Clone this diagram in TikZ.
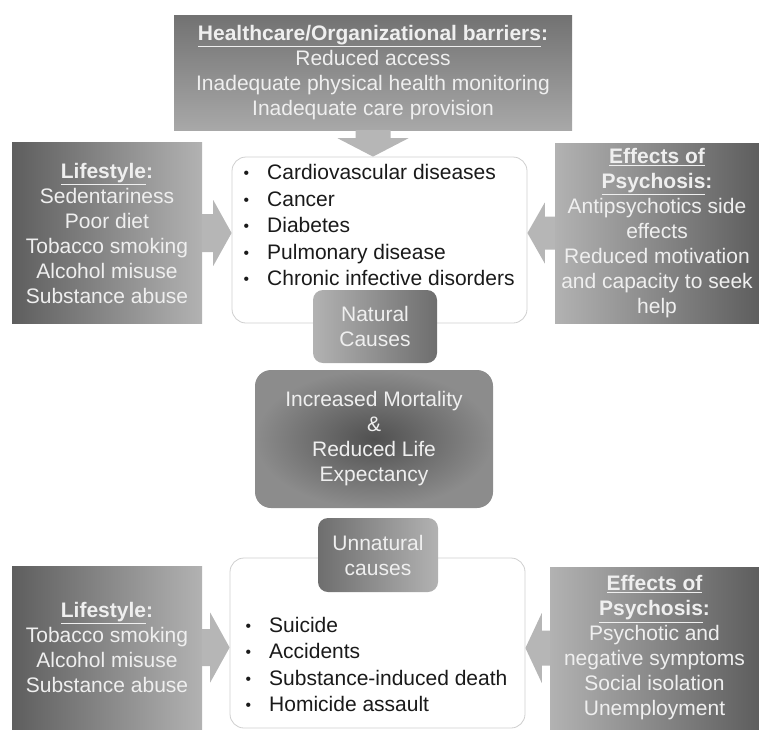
\documentclass[tikz,border=0pt]{standalone}
\usepackage{fontspec}
\setmainfont{Liberation Sans}
\usetikzlibrary{calc}
\definecolor{boxtext}{HTML}{EFEFEF}
\definecolor{listtext}{HTML}{1A1A1A}
\definecolor{edgegrey}{HTML}{CFCFCF}
\definecolor{arrowgrey}{HTML}{B6B6B6}
\definecolor{darkgrey}{HTML}{5E5E5E}
\definecolor{lightgrey}{HTML}{B2B2B2}
\definecolor{topgrey}{HTML}{727272}
\definecolor{bottomgrey}{HTML}{A8A8A8}
\definecolor{midgrey}{HTML}{505050}
\definecolor{rimgrey}{HTML}{8C8C8C}
\newcommand{\itm}{\makebox[23.5pt][l]{\raisebox{1pt}{\scalebox{0.75}{\textbullet}}}}
\begin{document}
\begin{tikzpicture}[x=1pt, y=-1pt,
  greybox/.style={inner sep=0pt, align=center, text=boxtext, font=\fontsize{21}{25}\selectfont},
  listbox/.style={draw=edgegrey, line width=0.8pt, fill=white, rounded corners=14pt, inner sep=0pt},
  itemlist/.style={inner sep=0pt, align=left, text=listtext, font=\fontsize{21}{26.5}\selectfont, anchor=west},
  causebox/.style={greybox, rounded corners=10pt},
  fatarrow/.style={fill=arrowgrey}]
  \useasboundingbox (0,0) rectangle (759,729);
  % ── cajas blancas con las causas ──
  \node[listbox, minimum width=295pt, minimum height=166pt] (natBox) at (379.5,240) {};
  \node[itemlist] (natList) at (243.5,225) {\itm Cardiovascular diseases\\\itm Cancer\\\itm Diabetes\\\itm Pulmonary disease\\\itm Chronic infective disorders};
  \node[listbox, minimum width=295pt, minimum height=170pt] (unnatBox) at (377.5,643) {};
  \node[itemlist] (unnatList) at (245.5,664.5) {\itm Suicide\\\itm Accidents\\\itm Substance-induced death\\\itm Homicide assault};
  % ── barreras (arriba) ──
  \node[greybox, top color=topgrey, bottom color=bottomgrey, minimum width=398pt, minimum height=115pt] (barriers) at (373,72.5)
    {\textbf{\underline{Healthcare/Organizational barriers}:}\\Reduced access\\Inadequate physical health monitoring\\Inadequate care provision};
  % ── estilo de vida / efectos de la psicosis ──
  \node[greybox, left color=darkgrey, right color=lightgrey, minimum width=190pt, minimum height=181pt] (lifeTop) at (107,233)
    {\textbf{\underline{Lifestyle}:}\\Sedentariness\\Poor diet\\Tobacco smoking\\Alcohol misuse\\Substance abuse};
  \node[greybox, left color=lightgrey, right color=darkgrey, minimum width=204pt, minimum height=180pt] (psyTop) at (657,233)
    {\textbf{\underline{Effects of}}\\\textbf{\underline{Psychosis}:}\\Antipsychotics side\\effects\\Reduced motivation\\and capacity to seek\\help};
  \node[greybox, left color=darkgrey, right color=lightgrey, minimum width=190pt, minimum height=163pt] (lifeBot) at (107,647.5)
    {\textbf{\underline{Lifestyle}:}\\Tobacco smoking\\Alcohol misuse\\Substance abuse};
  \node[greybox, left color=lightgrey, right color=darkgrey, minimum width=209pt, minimum height=162pt] (psyBot) at (654.5,648)
    {\textbf{\underline{Effects of}}\\\textbf{\underline{Psychosis}:}\\Psychotic and\\negative symptoms\\Social isolation\\Unemployment};
  % ── causas naturales / no naturales y centro ──
  \node[causebox, left color=lightgrey, right color=darkgrey!90!white, minimum width=124pt, minimum height=73pt] (natural) at (375,326.5) {Natural\\Causes};
  \node[causebox, left color=darkgrey!90!white, right color=lightgrey, minimum width=120pt, minimum height=74pt] (unnatural) at (378,555) {Unnatural\\causes};
  \node[greybox, rounded corners=16pt, inner color=midgrey, outer color=rimgrey, minimum width=238pt, minimum height=138pt] (mortality) at (374,439)
    {Increased Mortality\\\&\\Reduced Life\\Expectancy};
  % ── flechas gruesas ──
  \fill[fatarrow] ($(barriers.south)+(-17.5,0)$) -- ($(barriers.south)+(-17.5,8)$) -- ($(barriers.south)+(-35.5,8)$)
    -- (barriers.south |- natBox.north) -- ($(barriers.south)+(35.5,8)$) -- ($(barriers.south)+(17.5,8)$) -- ($(barriers.south)+(17.5,0)$) -- cycle;
  \fill[fatarrow] ($(lifeTop.east)+(0,-19)$) -- ($(lifeTop.east)+(11,-19)$) -- ($(lifeTop.east)+(11,-33)$)
    -- (natBox.west |- lifeTop.east) -- ($(lifeTop.east)+(11,33)$) -- ($(lifeTop.east)+(11,19)$) -- ($(lifeTop.east)+(0,19)$) -- cycle;
  \fill[fatarrow] ($(psyTop.west)+(0,-16.5)$) -- ($(psyTop.west)+(-10,-16.5)$) -- ($(psyTop.west)+(-10,-30.5)$)
    -- (natBox.east |- psyTop.west) -- ($(psyTop.west)+(-10,30.5)$) -- ($(psyTop.west)+(-10,16.5)$) -- ($(psyTop.west)+(0,16.5)$) -- cycle;
  \fill[fatarrow] ($(lifeBot.east)+(0,-18.5)$) -- ($(lifeBot.east)+(8,-18.5)$) -- ($(lifeBot.east)+(8,-35)$)
    -- (unnatBox.west |- lifeBot.east) -- ($(lifeBot.east)+(8,35)$) -- ($(lifeBot.east)+(8,18.5)$) -- ($(lifeBot.east)+(0,18.5)$) -- cycle;
  \fill[fatarrow] ($(psyBot.west)+(0,-17.5)$) -- ($(psyBot.west)+(-8,-17.5)$) -- ($(psyBot.west)+(-8,-35)$)
    -- (unnatBox.east |- psyBot.west) -- ($(psyBot.west)+(-8,35)$) -- ($(psyBot.west)+(-8,17.5)$) -- ($(psyBot.west)+(0,17.5)$) -- cycle;
\end{tikzpicture}
\end{document}
